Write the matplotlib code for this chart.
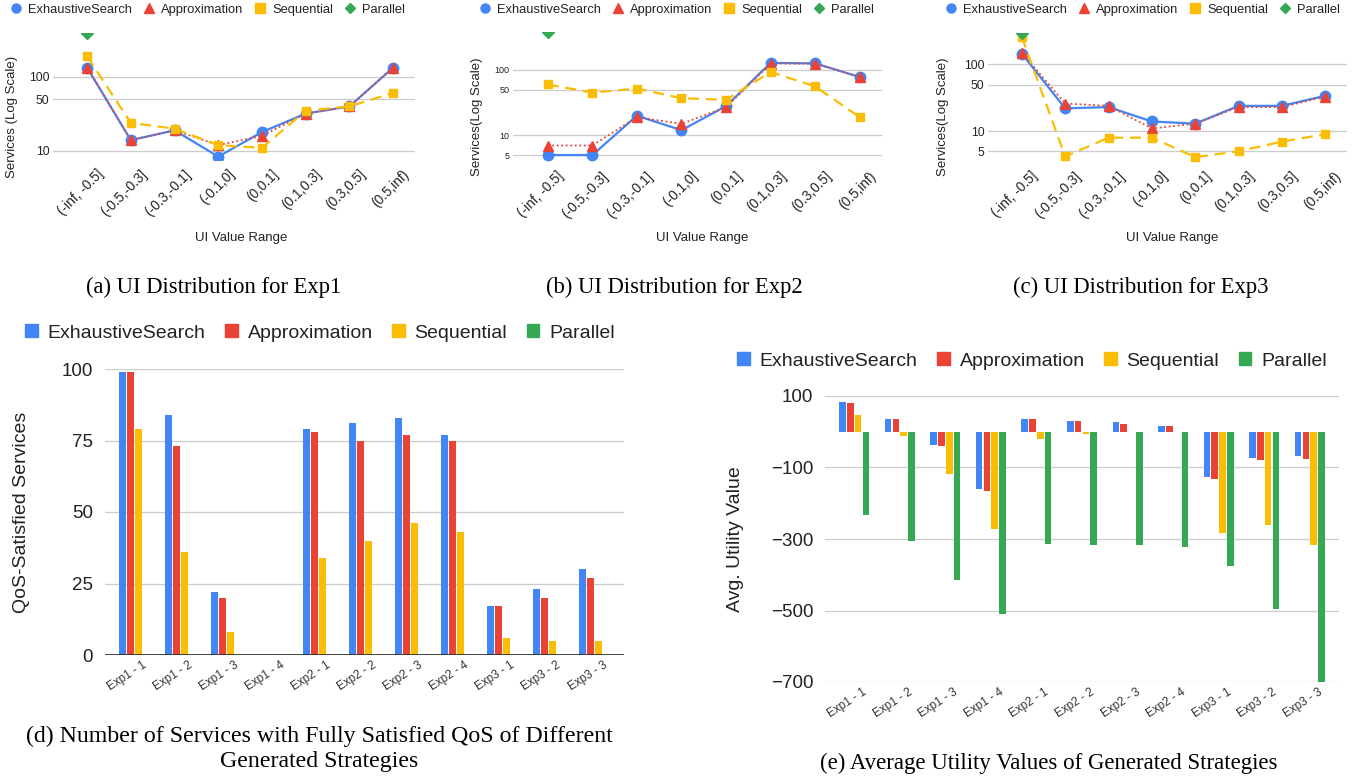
import matplotlib
matplotlib.use("Agg")
import matplotlib.pyplot as plt
from matplotlib.lines import Line2D
from matplotlib.patches import Patch
from matplotlib.transforms import ScaledTranslation
import numpy as np

W, H = 1364, 783
SANS = "Liberation Sans"
SERIF = "Liberation Serif"

BLUE, RED, YELLOW, GREEN = "#4285F4", "#EA4335", "#FBBC04", "#34A853"
methods = ["ExhaustiveSearch", "Approximation", "Sequential", "Parallel"]
colors = [BLUE, RED, YELLOW, GREEN]

# ---- UI distribution data (log scale), nan = not shown ----
ui_ranges = ["(-inf, -0.5]", "(-0.5,-0.3]", "(-0.3,-0.1]", "(-0.1,0]",
             "(0,0.1]", "(0.1,0.3]", "(0.3,0.5]", "(0.5,inf)"]
nan = np.nan
exp1_exhaustive = [134, 14, 19, 8.4, 18, 32, 40, 134]
exp1_approx = [134, 14, 19, 12, 16, 32, 40, 134]
exp1_sequential = [190, 24, 20, 12, 11, 35, 40, 61]
exp1_parallel = [393, nan, nan, nan, nan, nan, nan, nan]

exp2_exhaustive = [5, 5, 20, 12, 28, 128, 126, 78]
exp2_approx = [7, 7, 19, 15, 27, 125, 125, 78]
exp2_sequential = [60, 45, 52, 37, 35, 93, 56, 19]
exp2_parallel = [380, nan, nan, nan, nan, nan, nan, nan]

exp3_exhaustive = [145, 22, 23, 14, 13, 24, 24, 34]
exp3_approx = [150, 26, 24, 11, 13, 23, 23, 33]
exp3_sequential = [258, 4.2, 8, 8, 4.1, 5, 7, 9]
exp3_parallel = [296, nan, nan, nan, nan, nan, nan, nan]

# ---- strategies data ----
strategies = ["Exp1 - 1", "Exp1 - 2", "Exp1 - 3", "Exp1 - 4",
              "Exp2 - 1", "Exp2 - 2", "Exp2 - 3", "Exp2 - 4",
              "Exp3 - 1", "Exp3 - 2", "Exp3 - 3"]
qos_exhaustive = [99, 84, 22, 0, 79, 81, 83, 77, 17, 23, 30]
qos_approx = [99, 73, 20, 0, 78, 75, 77, 75, 17, 20, 27]
qos_sequential = [79, 36, 8, 0, 34, 40, 46, 43, 6, 5, 5]
qos_parallel = [0, 0, 0, 0, 0, 0, 0, 0, 0, 0, 0]

util_exhaustive = [84, 37, -36, -160, 37, 29, 26, 17, -126, -74, -68]
util_approx = [81, 35, -39, -166, 37, 29, 22, 17, -133, -79, -77]
util_sequential = [47, -12, -117, -271, -19, -7, 0, 0, -282, -262, -316]
util_parallel = [-232, -306, -414, -509, -313, -316, -316, -322, -375, -495, -701]

fig = plt.figure(figsize=(W / 100, H / 100), dpi=100)


def rect(x0, y0, x1, y1):
    return [x0 / W, 1 - y1 / H, (x1 - x0) / W, (y1 - y0) / H]


def ftext(x, y, s, **kw):
    fig.text(x / W, 1 - y / H, s, **kw)


def shift_labels(ax, dx_px):
    off = ScaledTranslation(dx_px / 100, 0, fig.dpi_scale_trans)
    for lab in ax.get_xticklabels():
        lab.set_transform(lab.get_transform() + off)


def ui_panel(box, exh, app, seq, par, ylim, yticks, tick_fs, ylabel, ylab_x, xlab_x, leg_x):
    ax = fig.add_axes(rect(*box))
    x = np.arange(len(ui_ranges))
    ax.plot(x, exh, color=BLUE, lw=1.6, marker="o", ms=7.5, zorder=3)
    ax.plot(x, app, color=RED, lw=1.3, ls=(0, (1, 1.5)), marker="^", ms=6.5, zorder=4)
    ax.plot(x, seq, color=YELLOW, lw=1.6, ls=(0, (5, 3)), marker="s", ms=6, zorder=5)
    ax.plot(x, par, color=GREEN, ls="none", marker="D", ms=6.5, zorder=6)
    ax.set_yscale("log")
    ax.set_ylim(*ylim)
    ax.set_xlim(-0.78, 7.5)
    ax.set_yticks(yticks)
    ax.set_yticklabels([str(t) for t in yticks])
    ax.minorticks_off()
    ax.grid(axis="y", color="#cccccc", lw=0.9)
    ax.set_axisbelow(True)
    for s in ax.spines.values():
        s.set_visible(False)
    ax.tick_params(length=0)
    ax.tick_params(axis="y", pad=2.5, labelsize=tick_fs, labelcolor="#222222")
    ax.set_xticks(x)
    ax.set_xticklabels(ui_ranges, rotation=45, ha="right", rotation_mode="anchor",
                       fontsize=9.8, color="#222222", family=SANS)
    ax.tick_params(axis="x", pad=5)
    for lab in ax.get_yticklabels():
        lab.set_family(SANS)
    shift_labels(ax, 9)
    ftext(ylab_x, 117, ylabel, rotation=90, ha="center", va="center",
          fontsize=9.5, family=SANS, color="#222222")
    ftext(xlab_x, 238, "UI Value Range", ha="center", va="center",
          fontsize=9.5, family=SANS, color="#222222")
    markers = ["o", "^", "s", "D"]
    handles = [Line2D([], [], ls="none", marker=m, color=c, ms=6.5 if m != "D" else 5.5)
               for m, c in zip(markers, colors)]
    fig.legend(handles, methods, loc="center", bbox_to_anchor=(leg_x / W, 1 - 9.5 / H),
               ncol=4, frameon=False, handlelength=0.8, handletextpad=0.5,
               columnspacing=0.95, prop={"family": SANS, "size": 9.3},
               labelcolor="#222222")
    return ax


ui_panel((53, 33, 415, 160), exp1_exhaustive, exp1_approx, exp1_sequential, exp1_parallel,
         (7.55, 393), [10, 50, 100], 8.8, "Services (Log Scale)", 12, 241, 208)
ui_panel((513, 32, 882, 162), exp2_exhaustive, exp2_approx, exp2_sequential, exp2_parallel,
         (3.92, 380), [5, 10, 50, 100], 6.5, "Services(Log Scale)", 477, 702, 677)
ui_panel((988, 33, 1347, 162), exp3_exhaustive, exp3_approx, exp3_sequential, exp3_parallel,
         (3.46, 296), [5, 10, 50, 100], 8.8, "Services(Log Scale)", 943, 1172, 1143)


def bar_panel(box, series, ylim, yticks, ylabel, ylab_xy, leg_xy, baseline):
    ax = fig.add_axes(rect(*box))
    x = np.arange(len(strategies))
    slot, width = 0.172, 0.145
    for i, (vals, c) in enumerate(zip(series, colors)):
        ax.bar(x + (i - 1.5) * slot, vals, width, color=c, zorder=3)
    ax.set_xlim(-0.64, 10.64)
    ax.set_ylim(*ylim)
    ax.set_yticks(yticks)
    ax.grid(axis="y", color="#cccccc", lw=0.9)
    ax.set_axisbelow(True)
    for s in ax.spines.values():
        s.set_visible(False)
    if baseline:
        ax.axhline(0, color="#333333", lw=1.3, zorder=4)
    ax.tick_params(length=0)
    ax.tick_params(axis="y", pad=8.5, labelsize=13.5, labelcolor="#222222")
    for lab in ax.get_yticklabels():
        lab.set_family(SANS)
    ax.set_xticks(x)
    ax.set_xticklabels(strategies, rotation=33, ha="right", rotation_mode="anchor",
                       fontsize=8.5, color="#333333", family=SANS)
    ax.tick_params(axis="x", pad=3)
    shift_labels(ax, 8)
    ftext(ylab_xy[0], ylab_xy[1], ylabel, rotation=90, ha="center", va="center",
          fontsize=14, family=SANS, color="#222222")
    handles = [Patch(color=c) for c in colors]
    fig.legend(handles, methods, loc="center", bbox_to_anchor=(leg_xy[0] / W, 1 - leg_xy[1] / H),
               ncol=4, frameon=False, handlelength=0.65, handleheight=0.65,
               handletextpad=0.5, columnspacing=1.0,
               prop={"family": SANS, "size": 14}, labelcolor="#222222")
    return ax


bar_panel((105, 369, 624, 655),
          [qos_exhaustive, qos_approx, qos_sequential, qos_parallel],
          (0, 100), [0, 25, 50, 75, 100], "QoS-Satisfied Services", (22, 512), (320, 333), True)
bar_panel((825, 396, 1339, 682),
          [util_exhaustive, util_approx, util_sequential, util_parallel],
          (-700, 100), [100, -100, -300, -500, -700], "Avg. Utility Value", (735, 539), (1032, 361), False)

# ---- captions ----
cap = dict(ha="center", va="center", family=SERIF, color="black")
ftext(214, 287, "(a) UI Distribution for Exp1", fontsize=16.3, **cap)
ftext(674, 287, "(b) UI Distribution for Exp2", fontsize=16.3, **cap)
ftext(1141, 287, "(c) UI Distribution for Exp3", fontsize=16.3, **cap)
ftext(319, 736, "(d) Number of Services with Fully Satisfied QoS of Different", fontsize=17.2, **cap)
ftext(319, 762, "Generated Strategies", fontsize=17.2, **cap)
ftext(1049, 763, "(e) Average Utility Values of Generated Strategies", fontsize=16.5, **cap)

fig.savefig("out.png", dpi=100)
